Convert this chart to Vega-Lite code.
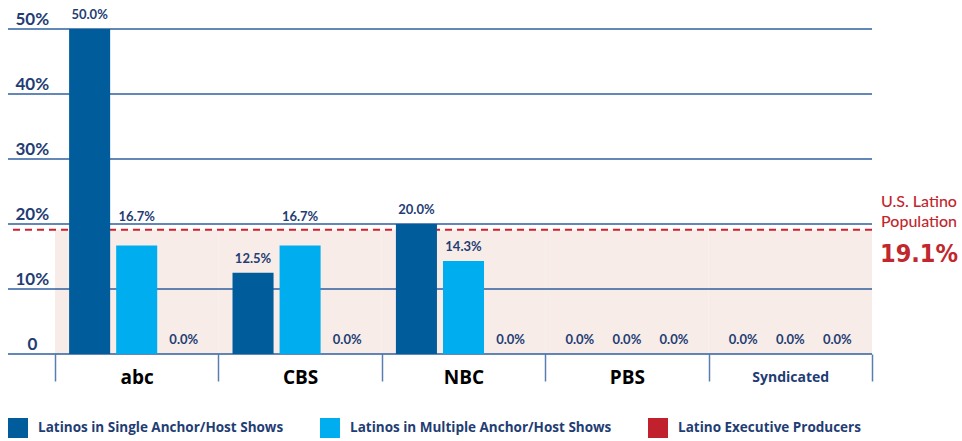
{
  "$schema": "https://vega.github.io/schema/vega-lite/v6.json",
  "width": 864,
  "height": 325,
  "autosize": "none",
  "padding": {"left": 8, "top": 29, "right": 90, "bottom": 87},
  "background": "#ffffff",
  "config": {"view": {"stroke": null}, "font": "Lato"},
  "datasets": {
    "bars": [
      {"network": "abc", "series": "Latinos in Single Anchor/Host Shows", "value": 0.5},
      {"network": "abc", "series": "Latinos in Multiple Anchor/Host Shows", "value": 0.167},
      {"network": "abc", "series": "Latino Executive Producers", "value": 0},
      {"network": "CBS", "series": "Latinos in Single Anchor/Host Shows", "value": 0.125},
      {"network": "CBS", "series": "Latinos in Multiple Anchor/Host Shows", "value": 0.167},
      {"network": "CBS", "series": "Latino Executive Producers", "value": 0},
      {"network": "NBC", "series": "Latinos in Single Anchor/Host Shows", "value": 0.2},
      {"network": "NBC", "series": "Latinos in Multiple Anchor/Host Shows", "value": 0.143},
      {"network": "NBC", "series": "Latino Executive Producers", "value": 0},
      {"network": "PBS", "series": "Latinos in Single Anchor/Host Shows", "value": 0},
      {"network": "PBS", "series": "Latinos in Multiple Anchor/Host Shows", "value": 0},
      {"network": "PBS", "series": "Latino Executive Producers", "value": 0},
      {"network": "Syndicated", "series": "Latinos in Single Anchor/Host Shows", "value": 0},
      {"network": "Syndicated", "series": "Latinos in Multiple Anchor/Host Shows", "value": 0},
      {"network": "Syndicated", "series": "Latino Executive Producers", "value": 0}
    ],
    "grid": [{"v": 0}, {"v": 0.1}, {"v": 0.2}, {"v": 0.3}, {"v": 0.4}, {"v": 0.5}],
    "nets": [{"network": "abc"}, {"network": "CBS"}, {"network": "NBC"}, {"network": "PBS"}, {"network": "Syndicated"}],
    "one": [{"population": 0.191}]
  },
  "resolve": {"scale": {"x": "shared", "y": "shared"}},
  "layer": [
    {
      "data": {"name": "nets"},
      "mark": {"type": "bar", "color": "#f7ece8"},
      "encoding": {
        "x": {
          "field": "network", "type": "nominal", "sort": null,
          "scale": {"domain": ["abc", "CBS", "NBC", "PBS", "Syndicated"], "paddingInner": 0, "paddingOuter": 0.1438, "align": 1},
          "axis": {
            "title": null, "domain": false, "grid": false,
            "ticks": true, "tickBand": "extent", "tickSize": 27, "tickColor": "#5a7db0", "tickWidth": 1.5,
            "labelAngle": 0, "labelBaseline": "middle", "labelPadding": -4,
            "labelFont": "Open Sans", "labelFontWeight": "bold",
            "labelFontSize": {"condition": {"test": "datum.value === 'Syndicated'", "value": 14}, "value": 19},
            "labelColor": {"condition": {"test": "datum.value === 'Syndicated'", "value": "#1f3d73"}, "value": "#000000"}
          }
        },
        "y": {
          "datum": 0.191, "type": "quantitative",
          "scale": {"domain": [0, 0.5], "nice": false},
          "axis": {
            "title": null, "domain": false, "grid": false, "ticks": false,
            "values": [0, 0.1, 0.2, 0.3, 0.4, 0.5], "format": ".0%",
            "labelExpr": "datum.value == 0 ? '0' : datum.label",
            "labelAlign": "left",
            "labelPadding": {"condition": {"test": "datum.value == 0", "value": -19}, "value": -7},
            "labelBaseline": "alphabetic", "labelOffset": -5,
            "labelFont": "Lato", "labelFontSize": 17, "labelFontWeight": "bold", "labelColor": "#1f3d73"
          }
        },
        "y2": {"datum": 0}
      }
    },
    {
      "data": {"name": "grid"},
      "mark": {"type": "rule", "color": "#2f5f9e", "strokeWidth": 1.5},
      "encoding": {"y": {"field": "v", "type": "quantitative"}}
    },
    {
      "data": {"name": "one"},
      "mark": {"type": "rule", "color": "#d0202f", "strokeWidth": 2, "strokeDash": [7, 5]},
      "encoding": {"y": {"field": "population", "type": "quantitative"}}
    },
    {
      "data": {"name": "bars"},
      "mark": {"type": "bar"},
      "encoding": {
        "x": {"field": "network", "type": "nominal", "sort": null},
        "xOffset": {
          "field": "series", "type": "nominal", "sort": null,
          "scale": {"domain": ["Latinos in Single Anchor/Host Shows", "Latinos in Multiple Anchor/Host Shows", "Latino Executive Producers"], "paddingInner": 0.128, "paddingOuter": 0.3}
        },
        "y": {"field": "value", "type": "quantitative"},
        "color": {
          "field": "series", "type": "nominal", "sort": null,
          "scale": {
            "domain": ["Latinos in Single Anchor/Host Shows", "Latinos in Multiple Anchor/Host Shows", "Latino Executive Producers"],
            "range": ["#005c9a", "#00aeef", "#c1202d"]
          },
          "legend": {
            "title": null, "orient": "none", "legendX": 0, "legendY": 389,
            "direction": "horizontal", "columns": 3, "gridAlign": "each", "columnPadding": 36,
            "symbolType": "square", "symbolSize": 400, "symbolStrokeWidth": 0, "symbolOpacity": 1,
            "labelFont": "Open Sans", "labelFontSize": 13.5, "labelFontWeight": "bold", "labelColor": "#1f3d73",
            "labelOffset": 10, "labelLimit": 400
          }
        }
      }
    },
    {
      "data": {"name": "bars"},
      "mark": {
        "type": "text", "baseline": "alphabetic",
        "dy": {"expr": "datum.value > 0.16 && datum.value < 0.19 ? -24 : -10"},
        "font": "Lato", "fontSize": 13, "fontWeight": "bold", "color": "#1f3d73"
      },
      "encoding": {
        "x": {"field": "network", "type": "nominal", "sort": null},
        "xOffset": {"field": "series", "type": "nominal", "sort": null},
        "y": {"field": "value", "type": "quantitative"},
        "text": {"field": "value", "type": "quantitative", "format": ".1%"}
      }
    },
    {
      "data": {"name": "one"},
      "mark": {"type": "text", "align": "left", "baseline": "alphabetic", "dx": 9, "dy": -23, "lineHeight": 20, "font": "Lato", "fontSize": 16, "fontWeight": 500, "color": "#c1272d"},
      "encoding": {
        "x": {"datum": "Syndicated", "type": "nominal", "bandPosition": 1},
        "y": {"field": "population", "type": "quantitative"},
        "text": {"value": ["U.S. Latino", "Population"]}
      }
    },
    {
      "data": {"name": "one"},
      "mark": {"type": "text", "align": "left", "baseline": "alphabetic", "dx": 8, "dy": 32, "font": "'DejaVu Sans Condensed', 'DejaVu Sans', sans-serif", "fontSize": 25, "fontWeight": "bold", "color": "#c1272d"},
      "encoding": {
        "x": {"datum": "Syndicated", "type": "nominal", "bandPosition": 1},
        "y": {"field": "population", "type": "quantitative"},
        "text": {"field": "population", "type": "quantitative", "format": ".1%"}
      }
    }
  ]
}
